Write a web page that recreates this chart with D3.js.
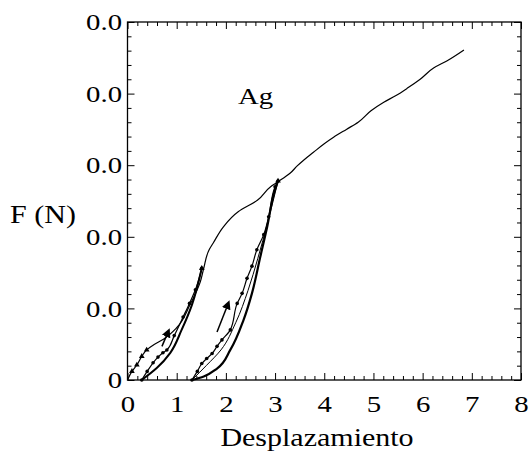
<!DOCTYPE html>
<html>
<head>
<meta charset="utf-8">
<script src="https://cdn.jsdelivr.net/npm/d3@7"></script>
<style>
  body { margin: 0; background: #fff; }
  svg { display: block; }
</style>
</head>
<body>
<div id="chart"></div>
<script>
// axis ticks
const xTicks = [0, 1, 2, 3, 4, 5, 6, 7, 8];
const yTicks = [0, 1, 2, 3, 4, 5];
const yTickLabels = ["0", "0.0", "0.0", "0.0", "0.0", "0.0"];

// first loading + continued loading (thin line)
const envelopeX = [0, 0.09, 0.19, 0.29, 0.39, 0.55, 0.73, 1.0, 1.27, 1.48, 1.55, 1.66, 1.74, 1.95, 2.25, 2.64, 2.91, 3.04, 3.31, 3.45, 3.58, 3.78, 4.0, 4.19, 4.45, 4.69, 4.95, 5.21, 5.45, 5.70, 5.95, 6.23, 6.5, 6.84];
const envelopeY = [0, 0.12, 0.21, 0.33, 0.42, 0.50, 0.57, 0.73, 1.05, 1.37, 1.56, 1.82, 1.91, 2.14, 2.35, 2.51, 2.70, 2.76, 2.89, 2.99, 3.07, 3.18, 3.30, 3.39, 3.50, 3.60, 3.76, 3.88, 3.97, 4.08, 4.20, 4.36, 4.46, 4.61];
const startMarkX = [0.09, 0.19, 0.29, 0.39];
const startMarkY = [0.12, 0.21, 0.33, 0.42];

// first unload / reload loop
const loop1UnloadX = [1.51, 1.31, 1.10, 0.87, 0.60, 0.29];
const loop1UnloadY = [1.56, 1.05, 0.70, 0.38, 0.17, 0];
const loop1ReloadX = [0.29, 0.40, 0.52, 0.62, 0.72, 0.80, 0.95, 1.13, 1.26, 1.38, 1.51];
const loop1ReloadY = [0, 0.12, 0.24, 0.32, 0.38, 0.42, 0.62, 0.88, 1.07, 1.26, 1.56];

// second unload / reload loop
const loop2UnloadX = [3.06, 2.98, 2.84, 2.70, 2.53, 2.36, 2.09, 1.82, 1.55, 1.31];
const loop2UnloadY = [2.78, 2.61, 2.14, 1.72, 1.21, 0.84, 0.42, 0.16, 0.05, 0];
const loop2MidX = [1.31, 1.60, 1.90, 2.20, 2.45, 2.65, 2.85, 3.06];
const loop2MidY = [0, 0.20, 0.42, 0.80, 1.25, 1.70, 2.20, 2.78];
const loop2ReloadX = [1.31, 1.42, 1.51, 1.61, 1.72, 1.82, 1.92, 2.09, 2.23, 2.33, 2.43, 2.53, 2.63, 2.77, 2.87, 3.00, 3.06];
const loop2ReloadY = [0, 0.12, 0.23, 0.30, 0.37, 0.47, 0.56, 0.70, 1.07, 1.21, 1.42, 1.59, 1.82, 2.03, 2.28, 2.70, 2.78];

// loop tips and direction arrows
const tipX = [1.51, 3.06];
const tipY = [1.56, 2.78];
const arrowFromX = [0.70, 1.82];
const arrowFromY = [0.47, 0.67];
const arrowToX = [0.80, 2.02];
const arrowToY = [0.63, 1.02];

const width = 531, height = 462;
const plotLeft = 127.5, plotRight = 521, plotTop = 22, plotBottom = 380;
const font = "'Liberation Serif', 'DejaVu Serif', serif";
const stretch = 1.2;

const svg = d3.select("#chart")
  .append("svg")
  .attr("width", width)
  .attr("height", height);

const x = d3.scaleLinear().domain([0, 8]).range([plotLeft, plotRight]);
const y = d3.scaleLinear().domain([0, 5]).range([plotBottom, plotTop]);

const xMinor = d3.range(0, 8.001, 0.2).filter(v => Math.abs(v - Math.round(v)) > 1e-6);
const yMinor = d3.range(0, 5.001, 0.2).filter(v => Math.abs(v - Math.round(v)) > 1e-6);

function styleTicks(g) {
  g.select(".domain").remove();
  g.selectAll("line").attr("stroke", "#000").attr("stroke-width", 1);
}

// bottom axis with labels
const gx = svg.append("g")
  .attr("transform", `translate(0,${plotBottom})`)
  .call(d3.axisBottom(x).tickValues(xTicks).tickSize(-7).tickPadding(15).tickFormat(d3.format("d")))
  .call(styleTicks);
gx.selectAll("text")
  .attr("fill", "#000")
  .style("font-family", font)
  .style("font-size", "24px")
  .attr("transform", `scale(${stretch},1)`);

svg.append("g")
  .attr("transform", `translate(0,${plotBottom})`)
  .call(d3.axisBottom(x).tickValues(xMinor).tickSize(-4).tickFormat(""))
  .call(styleTicks);

// top mirror
svg.append("g")
  .attr("transform", `translate(0,${plotTop})`)
  .call(d3.axisTop(x).tickValues(xTicks).tickSize(-7).tickFormat(""))
  .call(styleTicks);
svg.append("g")
  .attr("transform", `translate(0,${plotTop})`)
  .call(d3.axisTop(x).tickValues(xMinor).tickSize(-4).tickFormat(""))
  .call(styleTicks);

// left axis with labels
const gy = svg.append("g")
  .attr("transform", `translate(${plotLeft},0)`)
  .call(d3.axisLeft(y).tickValues(yTicks).tickSize(-7).tickPadding(4.5).tickFormat((d, i) => yTickLabels[i]))
  .call(styleTicks);
gy.selectAll("text")
  .attr("fill", "#000")
  .style("font-family", font)
  .style("font-size", "24px")
  .attr("transform", `scale(${stretch},1)`);

svg.append("g")
  .attr("transform", `translate(${plotLeft},0)`)
  .call(d3.axisLeft(y).tickValues(yMinor).tickSize(-4).tickFormat(""))
  .call(styleTicks);

// right mirror
svg.append("g")
  .attr("transform", `translate(${plotRight},0)`)
  .call(d3.axisRight(y).tickValues(yTicks).tickSize(-7).tickFormat(""))
  .call(styleTicks);
svg.append("g")
  .attr("transform", `translate(${plotRight},0)`)
  .call(d3.axisRight(y).tickValues(yMinor).tickSize(-4).tickFormat(""))
  .call(styleTicks);

// frame
svg.append("rect")
  .attr("x", plotLeft)
  .attr("y", plotTop)
  .attr("width", plotRight - plotLeft)
  .attr("height", plotBottom - plotTop)
  .attr("fill", "none")
  .attr("stroke", "#000")
  .attr("stroke-width", 1.3);

const zip = (xs, ys) => xs.map((v, i) => [v, ys[i]]);
const line = d3.line()
  .x(d => x(d[0]))
  .y(d => y(d[1]))
  .curve(d3.curveMonotoneY);

function drawLine(xs, ys, w) {
  svg.append("path")
    .datum(zip(xs, ys))
    .attr("d", line)
    .attr("fill", "none")
    .attr("stroke", "#000")
    .attr("stroke-width", w)
    .attr("stroke-linejoin", "round");
}

drawLine(envelopeX, envelopeY, 1.2);
drawLine(loop1UnloadX, loop1UnloadY, 2);
drawLine(loop1ReloadX, loop1ReloadY, 1.2);
drawLine(loop2UnloadX, loop2UnloadY, 2.2);
drawLine(loop2MidX, loop2MidY, 1);
drawLine(loop2ReloadX, loop2ReloadY, 1.2);

// dot markers on reload curves
svg.append("g")
  .selectAll("circle")
  .data(zip(loop1ReloadX, loop1ReloadY).concat(zip(loop2ReloadX, loop2ReloadY)))
  .enter()
  .append("circle")
  .attr("cx", d => x(d[0]))
  .attr("cy", d => y(d[1]))
  .attr("r", 1.8)
  .attr("fill", "#000");

// small triangles near the start and at the loop tips
const tri = d3.symbol().type(d3.symbolTriangle).size(14);
svg.append("g")
  .selectAll("path")
  .data(zip(startMarkX, startMarkY).concat(zip(tipX, tipY)))
  .enter()
  .append("path")
  .attr("d", tri)
  .attr("transform", d => `translate(${x(d[0])},${y(d[1])})`)
  .attr("fill", "#000");

// arrows
svg.append("defs")
  .append("marker")
  .attr("id", "head")
  .attr("viewBox", "0 0 10 10")
  .attr("refX", 2)
  .attr("refY", 5)
  .attr("markerWidth", 6)
  .attr("markerHeight", 6)
  .attr("orient", "auto")
  .append("path")
  .attr("d", "M0,0L10,5L0,10Z")
  .attr("fill", "#000");

svg.append("g")
  .selectAll("line")
  .data(arrowFromX.map((v, i) => ({ x1: v, y1: arrowFromY[i], x2: arrowToX[i], y2: arrowToY[i] })))
  .enter()
  .append("line")
  .attr("x1", d => x(d.x1))
  .attr("y1", d => y(d.y1))
  .attr("x2", d => x(d.x2))
  .attr("y2", d => y(d.y2))
  .attr("stroke", "#000")
  .attr("stroke-width", 1.5)
  .attr("marker-end", "url(#head)");

// labels
function stretchedText(tx, ty, str, anchor, size) {
  svg.append("text")
    .attr("transform", `translate(${tx},${ty}) scale(${stretch},1)`)
    .attr("text-anchor", anchor)
    .style("font-family", font)
    .style("font-size", size + "px")
    .attr("fill", "#000")
    .text(str);
}

stretchedText(317, 446, "Desplazamiento", "middle", 25);
stretchedText(43, 223, "F (N)", "middle", 25);
stretchedText(238, 104, "Ag", "start", 24);
</script>
</body>
</html>
